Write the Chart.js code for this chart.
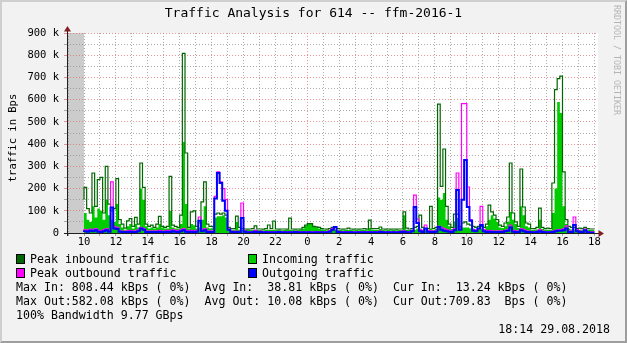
<!DOCTYPE html>
<html>
<head>
<meta charset="utf-8">
<title>Traffic Analysis for 614 -- ffm-2016-1</title>
<script src="https://cdn.jsdelivr.net/npm/chart.js@4.4.1/dist/chart.umd.min.js"></script>
<style>
    html, body { margin: 0; padding: 0; background: #f2f2f2; }
    #graph {
        position: relative;
        width: 627px;
        height: 343px;
        background: #f2f2f2;
        font-family: "DejaVu Sans Mono", monospace;
        color: #000;
        overflow: hidden;
    }
    #graph canvas { position: absolute; left: 0; top: 0; }
    .frame {
        position: absolute; left: 0; top: 0; width: 627px; height: 343px;
        box-sizing: border-box;
        border: 2px solid;
        border-color: #cfcfcf #9e9e9e #9e9e9e #cfcfcf;
    }
    .title {
        position: absolute; left: 0; top: 5px; width: 627px;
        text-align: center; font-size: 13px; line-height: 16px; white-space: pre;
    }
    .ylabel {
        position: absolute; left: 12px; top: 138px;
        font-size: 10.5px; line-height: 12px; white-space: pre;
        transform: translate(-50%, -50%) rotate(-90deg);
    }
    .watermark {
        position: absolute; left: 617px; top: 60px;
        font-size: 8.3px; line-height: 10px; white-space: pre; color: #b4b4b4;
        transform: translate(-50%, -50%) rotate(90deg);
    }
    .row { position: absolute; font-size: 11.6px; line-height: 14px; white-space: pre; }
    .box { position: absolute; width: 9px; height: 10px; box-sizing: border-box; border: 1px solid #000; }
</style>
</head>
<body>
<div id="graph">
    <canvas id="trafficChart" width="627" height="343"></canvas>
    <div class="frame"></div>
    <div class="title">Traffic Analysis for 614 -- ffm-2016-1</div>
    <div class="ylabel">traffic in Bps</div>
    <div class="watermark">RRDTOOL / TOBI OETIKER</div>

    <div class="box" style="left:16px; top:254px; background:#006600"></div>
    <div class="row" style="left:30px; top:252px">Peak inbound traffic</div>
    <div class="box" style="left:248px; top:254px; background:#00cc00"></div>
    <div class="row" style="left:262px; top:252px">Incoming traffic</div>

    <div class="box" style="left:16px; top:268px; background:#ff00ff"></div>
    <div class="row" style="left:30px; top:266px">Peak outbound traffic</div>
    <div class="box" style="left:248px; top:268px; background:#0000ff"></div>
    <div class="row" style="left:262px; top:266px">Outgoing traffic</div>

    <div class="row" style="left:16px; top:280px">Max In: 808.44 kBps ( 0%)  Avg In:  38.81 kBps ( 0%)  Cur In:  13.24 kBps ( 0%)</div>
    <div class="row" style="left:16px; top:294px">Max Out:582.08 kBps ( 0%)  Avg Out: 10.08 kBps ( 0%)  Cur Out:709.83  Bps ( 0%)</div>
    <div class="row" style="left:16px; top:308px">100% Bandwidth 9.77 GBps</div>
    <div class="row" style="right:17px; top:322px">18:14 29.08.2018</div>
</div>

<script>
// 10 minute samples, first one at 10:00 (kBps)
const startHour = 10;
const stepHours = 1 / 6;

const peakIn = [
    150, 205, 110, 90, 270, 120, 240, 250, 90, 300,
    130, 100, 110, 245, 60, 40, 22, 55, 65, 30,
    70, 40, 315, 205, 40, 30, 35, 25, 40, 75,
    30, 25, 30, 255, 35, 30, 25, 80, 808.44, 360,
    25, 95, 100, 30, 45, 140, 230, 40, 30, 30,
    85, 90, 85, 90, 80, 25, 20, 20, 76, 25,
    20, 18, 17, 18, 20, 32, 18, 18, 17, 20,
    36, 20, 54, 18, 17, 18, 18, 17, 67, 18,
    17, 18, 17, 25, 35, 42, 42, 30, 28, 25,
    20, 18, 17, 20, 25, 27, 20, 18, 17, 18,
    22, 18, 17, 18, 17, 18, 20, 17, 58, 20,
    20, 20, 27, 18, 17, 18, 17, 18, 17, 18,
    18, 95, 22, 18, 20, 25, 30, 80, 25, 20,
    20, 120, 20, 25, 580, 210, 378, 120, 40, 25,
    85, 85, 30, 45, 50, 40, 35, 30, 25, 30,
    30, 25, 40, 125, 95, 80, 60, 35, 30, 45,
    72, 315, 90, 50, 30, 288, 117, 45, 40, 20,
    20, 25, 112, 25, 20, 22, 20, 225, 645, 695,
    706, 275, 60, 30, 25, 25, 20, 22, 20, 25,
    20, 18
];

const incoming = [
    80, 90, 60, 50, 120, 70, 110, 100, 60, 150,
    80, 60, 50, 130, 40, 25, 15, 30, 40, 20,
    40, 25, 200, 150, 30, 20, 25, 20, 25, 40,
    25, 20, 20, 100, 25, 20, 20, 40, 410, 130,
    20, 40, 35, 20, 25, 60, 120, 25, 20, 25,
    70, 75, 75, 80, 70, 15, 14, 15, 50, 15,
    14, 14, 13, 13, 14, 15, 13, 13, 12, 13,
    15, 14, 15, 13, 13, 12, 13, 13, 15, 13,
    12, 13, 14, 20, 32, 40, 40, 27, 26, 20,
    16, 13, 12, 13, 15, 15, 13, 13, 12, 13,
    14, 13, 12, 13, 12, 13, 14, 12, 22, 15,
    13, 13, 18, 13, 12, 13, 12, 13, 12, 13,
    13, 80, 15, 13, 14, 15, 20, 20, 15, 14,
    14, 20, 14, 18, 160, 150, 180, 60, 30, 18,
    50, 67, 20, 25, 25, 25, 20, 20, 16, 20,
    20, 16, 30, 60, 80, 65, 50, 25, 22, 30,
    50, 95, 60, 40, 22, 120, 80, 30, 25, 14,
    15, 16, 60, 18, 15, 15, 14, 90, 200, 590,
    540, 120, 40, 20, 16, 15, 14, 15, 14, 14,
    13, 13.24
];

const peakOut = [
    10, 15, 12, 18, 15, 20, 12, 10, 15, 20,
    12, 230, 30, 25, 10, 8, 8, 10, 12, 8,
    10, 15, 25, 20, 10, 8, 10, 8, 10, 12,
    8, 10, 12, 10, 15, 12, 10, 15, 20, 12,
    10, 12, 10, 12, 72, 15, 20, 10, 8, 10,
    165, 275, 230, 200, 150, 18, 8, 7, 8, 6,
    135, 10, 6, 5, 6, 12, 6, 8, 5, 6,
    5, 6, 5, 6, 7, 5, 6, 5, 6, 5,
    7, 6, 5, 6, 5, 6, 5, 5, 6, 5,
    6, 5, 6, 10, 20, 27, 8, 6, 5, 6,
    5, 6, 5, 5, 6, 5, 6, 5, 6, 5,
    6, 5, 8, 6, 5, 6, 5, 6, 5, 6,
    8, 10, 6, 5, 12, 170, 63, 15, 10, 36,
    12, 10, 8, 10, 30, 25, 20, 15, 12, 10,
    20, 270, 25, 582.08, 582.08, 207, 60, 15, 12, 20,
    120, 15, 10, 12, 10, 8, 10, 8, 10, 12,
    15, 35, 12, 10, 8, 20, 15, 10, 8, 6,
    6, 8, 15, 8, 6, 5, 6, 8, 12, 15,
    15, 20, 32, 10, 8, 72, 15, 8, 6, 18,
    6, 5
];

const outgoing = [
    4, 8, 6, 10, 8, 12, 6, 5, 8, 12,
    6, 115, 20, 18, 6, 4, 4, 5, 6, 4,
    5, 8, 20, 15, 5, 4, 5, 4, 5, 6,
    4, 5, 6, 5, 8, 6, 5, 8, 12, 6,
    5, 6, 5, 6, 55, 8, 12, 5, 4, 5,
    155, 270, 225, 145, 100, 15, 4, 3, 4, 3,
    67, 6, 3, 2, 3, 6, 3, 4, 2, 3,
    2, 3, 2, 3, 4, 2, 3, 2, 3, 2,
    5, 3, 2, 3, 2, 3, 2, 2, 3, 2,
    3, 2, 3, 6, 15, 27, 4, 3, 2, 3,
    2, 3, 2, 2, 3, 2, 3, 2, 3, 2,
    3, 2, 4, 3, 2, 3, 2, 3, 2, 3,
    4, 6, 3, 2, 8, 117, 45, 8, 5, 20,
    6, 5, 4, 6, 27, 15, 10, 8, 6, 5,
    12, 194, 15, 150, 328, 117, 55, 10, 8, 20,
    36, 8, 5, 6, 5, 4, 5, 4, 5, 8,
    10, 25, 6, 5, 4, 12, 8, 5, 4, 3,
    3, 4, 8, 4, 3, 2, 3, 5, 8, 10,
    10, 12, 20, 5, 4, 36, 8, 4, 3, 12,
    3, 0.71
];

// axis range in hours relative to 10:00
const xMin = -1.066;
const xMax = 32.226;
const yMax = 900;

const minorGrid = 'rgba(143, 143, 143, 0.75)';
const majorGrid = 'rgba(222, 79, 79, 0.6)';
const monoFont = "'DejaVu Sans Mono', monospace";

function toSteps(values) {
    const pts = values.map((v, i) => ({ x: i * stepHours, y: v }));
    // close the last interval
    pts.push({ x: values.length * stepHours, y: values[values.length - 1] });
    return pts;
}

function clockHour(v) {
    return ((Math.round(v) + startHour) % 24 + 24) % 24;
}

// one tick on every whole hour inside the range
function hourTicks(scale) {
    const ticks = [];
    for (let h = Math.ceil(scale.min); h <= Math.floor(scale.max); h++) {
        ticks.push({ value: h });
    }
    scale.ticks = ticks;
}

// red line at midnight, grey on every other hour
function hourGridColor(c) {
    return clockHour(c.tick.value) === 0 ? majorGrid : minorGrid;
}

const plotBackground = {
    id: 'plotBackground',
    beforeDraw(chart) {
        const { ctx, chartArea: a, scales: { x } } = chart;
        ctx.save();
        ctx.fillStyle = '#ffffff';
        ctx.fillRect(a.left, a.top, a.width, a.height);
        // nothing recorded before the first sample
        const firstX = x.getPixelForValue(0);
        ctx.fillStyle = '#cccccc';
        ctx.fillRect(a.left, a.top, firstX - a.left, a.height);
        ctx.restore();
    }
};

const axisArrows = {
    id: 'axisArrows',
    afterDraw(chart) {
        const { ctx, chartArea: a } = chart;
        const x0 = Math.round(a.left) + 0.5;
        const y0 = Math.round(a.bottom) + 0.5;
        ctx.save();
        ctx.strokeStyle = '#1f1f1f';
        ctx.lineWidth = 1;
        ctx.beginPath();
        ctx.moveTo(x0, a.bottom + 3);
        ctx.lineTo(x0, a.top - 3);
        ctx.moveTo(a.left - 3, y0);
        ctx.lineTo(a.right + 2, y0);
        ctx.stroke();

        ctx.fillStyle = '#801f1f';
        ctx.beginPath();
        ctx.moveTo(x0 - 3.5, a.top - 1.5);
        ctx.lineTo(x0 + 3.5, a.top - 1.5);
        ctx.lineTo(x0, a.top - 7);
        ctx.closePath();
        ctx.fill();
        ctx.beginPath();
        ctx.moveTo(a.right + 0.5, y0 - 3.5);
        ctx.lineTo(a.right + 0.5, y0 + 3.5);
        ctx.lineTo(a.right + 6, y0);
        ctx.closePath();
        ctx.fill();
        ctx.restore();
    }
};

document.addEventListener('DOMContentLoaded', function() {
    const ctx = document.getElementById('trafficChart').getContext('2d');

    new Chart(ctx, {
        type: 'line',
        data: {
            datasets: [
                {
                    label: 'Outgoing traffic',
                    data: toSteps(outgoing),
                    borderColor: '#0000ff',
                    borderWidth: 2,
                    stepped: 'after',
                    fill: false,
                    order: 0
                },
                {
                    label: 'Peak outbound traffic',
                    data: toSteps(peakOut),
                    borderColor: '#ff00ff',
                    borderWidth: 1.2,
                    stepped: 'after',
                    fill: false,
                    order: 1
                },
                {
                    label: 'Peak inbound traffic',
                    data: toSteps(peakIn),
                    borderColor: '#006600',
                    borderWidth: 1.2,
                    stepped: 'after',
                    fill: false,
                    order: 2
                },
                {
                    label: 'Incoming traffic',
                    data: toSteps(incoming),
                    borderColor: '#00cc00',
                    backgroundColor: '#00cc00',
                    borderWidth: 0,
                    stepped: 'after',
                    fill: 'origin',
                    order: 3
                }
            ]
        },
        options: {
            responsive: false,
            animation: false,
            devicePixelRatio: 1,
            layout: { padding: { left: 0, top: 33, right: 29, bottom: 90 } },
            elements: { point: { radius: 0 }, line: { tension: 0 } },
            plugins: {
                legend: { display: false },
                tooltip: { enabled: false }
            },
            scales: {
                x: {
                    type: 'linear',
                    min: xMin,
                    max: xMax,
                    afterBuildTicks: hourTicks,
                    afterFit: s => { s.height = 20; },
                    border: { display: false, dash: [1, 2] },
                    grid: {
                        color: hourGridColor,
                        tickColor: hourGridColor,
                        tickBorderDash: [],
                        tickLength: 3,
                        lineWidth: 1
                    },
                    ticks: {
                        stepSize: 1,
                        autoSkip: false,
                        maxRotation: 0,
                        padding: 0,
                        color: '#000',
                        font: { family: monoFont, size: 10.5 },
                        callback: v => {
                            const h = clockHour(v);
                            return h % 2 === 0 ? String(h) : '';
                        }
                    }
                },
                y: {
                    min: 0,
                    max: yMax,
                    afterFit: s => { s.width = 67; },
                    border: { display: false, dash: [1, 2] },
                    grid: {
                        color: c => c.tick.value % 100 === 0 ? majorGrid : minorGrid,
                        tickColor: c => c.tick.value % 100 === 0 ? majorGrid : minorGrid,
                        tickBorderDash: [],
                        tickLength: 3,
                        lineWidth: 1
                    },
                    ticks: {
                        stepSize: 50,
                        autoSkip: false,
                        padding: 5,
                        color: '#000',
                        font: { family: monoFont, size: 10.5 },
                        callback: v => v % 100 !== 0 ? '' : (v === 0 ? '0' : v + ' k')
                    }
                }
            }
        },
        plugins: [plotBackground, axisArrows]
    });
});
</script>
</body>
</html>
